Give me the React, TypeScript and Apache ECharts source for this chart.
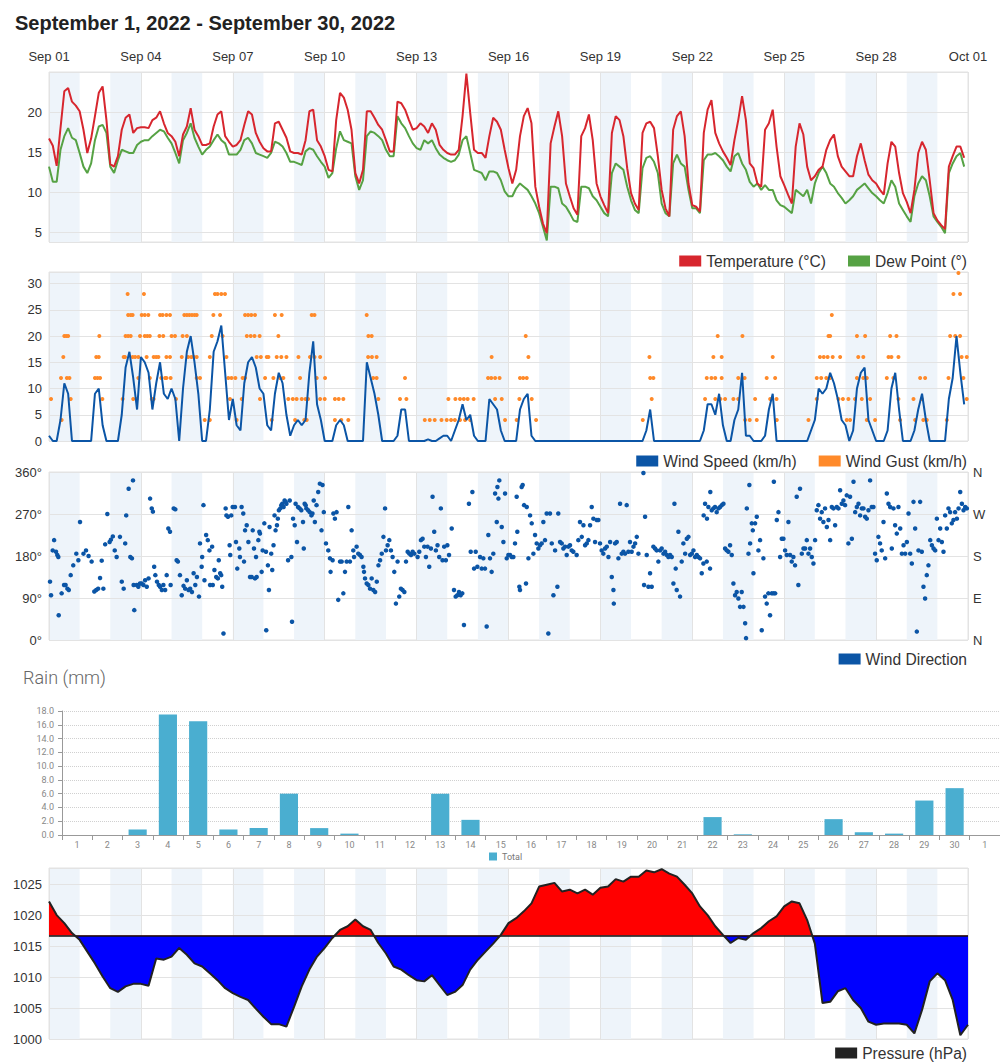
import React, { useEffect, useRef } from "react";
import * as echarts from "echarts";

// ---------- labels ----------
const titleText = "September 1, 2022 - September 30, 2022";
const dayLabels = ["Sep 01", "Sep 04", "Sep 07", "Sep 10", "Sep 13", "Sep 16", "Sep 19", "Sep 22", "Sep 25", "Sep 28", "Oct 01"];
const rainDays = ["1","2","3","4","5","6","7","8","9","10","11","12","13","14","15","16","17","18","19","20","21","22","23","24","25","26","27","28","29","30","1"];
const compass: Record<number, string> = { 0: "N", 90: "E", 180: "S", 270: "W", 360: "N" };

// ---------- temperature & dew point (every 3 h from Sep 1 00:00) ----------
const temperature = [
  16.7, 15.8, 13.3, 18.0, 22.6, 23.0, 21.3, 20.8,
  20.1, 17.8, 14.9, 16.7, 19.5, 22.4, 23.2, 19.0,
  13.5, 13.2, 14.5, 17.8, 19.3, 19.7, 17.4, 18.0,
  18.1, 18.1, 18.0, 19.0, 19.3, 20.1, 18.6, 17.4,
  17.0, 16.3, 14.5, 17.2, 18.2, 20.5, 17.8, 17.0,
  15.9, 15.9, 16.1, 18.2, 19.7, 20.1, 17.0, 16.3,
  15.7, 15.9, 16.5, 18.4, 20.1, 19.7, 17.4, 16.3,
  15.5, 15.1, 15.1, 18.6, 18.8, 17.8, 16.8, 15.1,
  14.9, 14.9, 14.7, 16.5, 20.1, 20.3, 16.5, 15.7,
  14.5, 12.8, 12.6, 19.0, 22.4, 21.8, 20.3, 17.8,
  12.4, 11.1, 12.8, 20.1, 20.1, 19.3, 18.4, 17.8,
  16.5, 15.1, 15.1, 21.3, 21.1, 20.3, 19.0, 17.8,
  18.0, 18.6, 18.2, 17.4, 18.6, 17.8, 15.9, 15.3,
  14.9, 14.7, 14.7, 15.3, 19.5, 24.8, 19.9, 15.3,
  14.9, 14.9, 14.3, 17.0, 19.3, 18.8, 17.8, 15.3,
  13.0, 11.1, 12.8, 17.0, 19.5, 20.5, 18.6, 10.7,
  8.2, 6.1, 4.9, 16.1, 18.2, 20.1, 17.0, 11.1,
  9.5, 8.0, 7.2, 17.0, 18.0, 19.7, 16.5, 11.1,
  9.5, 8.4, 7.4, 17.4, 19.5, 19.0, 17.0, 13.0,
  9.9, 8.6, 7.8, 17.4, 18.6, 18.8, 18.0, 14.5,
  10.3, 8.0, 7.0, 17.8, 19.5, 20.1, 17.0, 11.1,
  8.4, 8.2, 7.6, 17.4, 20.3, 21.5, 17.4, 16.1,
  15.1, 14.3, 13.4, 16.5, 19.0, 22.0, 19.0, 13.6,
  13.0, 11.1, 10.7, 17.8, 18.6, 20.3, 15.7, 12.0,
  10.9, 9.7, 8.6, 15.7, 18.6, 17.2, 13.2, 11.5,
  12.0, 12.8, 13.2, 15.3, 16.5, 17.2, 14.5, 13.2,
  12.6, 12.0, 12.0, 14.5, 16.1, 14.0, 12.2, 11.5,
  11.1, 10.3, 9.7, 13.6, 16.3, 15.7, 12.4, 9.9,
  8.8, 7.4, 10.3, 14.9, 16.3, 15.3, 11.5, 7.4,
  6.5, 5.9, 5.4, 13.2, 14.5, 15.7, 15.7, 14.3,
];
const dewPoint = [
  13.2, 11.3, 11.3, 15.3, 17.0, 18.0, 16.8, 16.5,
  14.9, 13.2, 12.4, 13.6, 16.5, 18.2, 18.4, 17.4,
  13.2, 12.4, 14.0, 15.3, 15.1, 14.9, 14.9, 15.9,
  16.3, 16.5, 16.5, 17.0, 17.4, 17.8, 17.6, 16.8,
  16.1, 14.9, 13.6, 16.5, 17.4, 18.6, 16.8, 15.7,
  14.7, 15.3, 15.7, 16.5, 17.2, 16.5, 16.1, 14.7,
  14.7, 14.7, 15.3, 16.5, 16.8, 16.1, 14.9, 14.7,
  14.5, 14.3, 14.9, 16.3, 16.1, 15.7, 14.9, 13.8,
  13.8, 13.6, 13.4, 15.1, 15.5, 15.3, 14.5, 13.8,
  13.2, 11.8, 12.4, 15.5, 17.6, 16.5, 16.3, 16.1,
  12.0, 10.3, 11.5, 17.0, 17.6, 17.4, 17.0, 16.5,
  15.3, 14.5, 14.5, 19.5, 18.6, 18.0, 17.0, 16.1,
  15.5, 15.3, 16.5, 16.1, 16.5, 15.5, 14.7, 14.3,
  14.0, 13.8, 14.0, 14.7, 16.5, 17.0, 14.9, 12.8,
  12.6, 12.4, 11.5, 12.6, 12.6, 12.4, 11.5, 10.1,
  9.5, 9.5, 10.5, 11.1, 10.7, 10.3, 9.5, 8.6,
  7.4, 5.7, 4.0, 10.7, 10.7, 10.5, 8.6, 8.2,
  7.4, 6.5, 6.3, 10.7, 10.7, 10.5, 9.5, 9.0,
  8.2, 7.4, 7.0, 12.4, 13.6, 13.2, 12.8, 10.7,
  9.0, 7.8, 7.4, 13.0, 14.3, 14.5, 13.8, 12.4,
  8.6, 7.4, 7.0, 13.6, 14.7, 13.6, 13.2, 10.3,
  8.0, 8.0, 7.4, 14.0, 14.7, 14.7, 14.9, 14.5,
  14.0, 13.2, 12.6, 14.5, 14.9, 13.6, 12.8, 11.3,
  10.7, 11.1, 10.3, 10.9, 10.3, 10.3, 9.0, 8.4,
  8.2, 7.8, 7.4, 10.3, 9.9, 9.5, 10.3, 8.6,
  11.1, 12.4, 13.2, 12.4, 11.1, 10.7, 9.9, 9.3,
  8.6, 9.0, 9.5, 10.3, 10.7, 11.1, 10.5, 9.9,
  9.5, 9.0, 8.6, 9.9, 11.5, 10.7, 8.6, 7.8,
  7.0, 6.3, 9.5, 11.1, 12.0, 11.5, 9.5, 7.0,
  6.3, 5.7, 4.9, 12.4, 13.6, 14.5, 14.9, 13.2,
];

// ---------- wind speed (every 3 h) ----------
const windSpeed = [
  1, 0, 0, 4, 11, 9, 0, 0,
  0, 0, 0, 0, 9, 10, 3, 0,
  0, 0, 0, 5, 14, 17, 12, 6,
  16, 15, 13, 6, 11, 15, 9, 8,
  10, 8, 0, 10, 17, 20, 15, 9,
  0, 0, 6, 17, 19, 22, 13, 4,
  8, 3, 2, 11, 15, 16, 14, 10,
  9, 3, 2, 9, 13, 11, 5, 1,
  3, 4, 3, 4, 13, 19, 7, 4,
  0, 0, 0, 3, 4, 3, 0, 0,
  0, 0, 0, 15, 12, 9, 5, 0,
  0, 0, 0, 1, 6, 6, 0, 0,
  0, 0, 0, 0.3, 0, 0, 0.5, 1,
  1, 0, 2, 4, 7, 4, 5, 1,
  0, 0, 0, 8, 7, 6, 2, 0,
  0, 0, 0, 6, 8, 9, 1, 0,
  0, 0, 0, 0, 0, 0, 0, 0,
  0, 0, 0, 0, 0, 0, 0, 0,
  0, 0, 0, 0, 0, 0, 0, 0,
  0, 0, 0, 0, 2, 6, 0, 0,
  0, 0, 0, 0, 0, 0, 0, 0,
  0, 0, 0, 2, 7, 7, 5, 9,
  3, 0, 0, 4, 6, 13, 1, 1,
  0, 0, 0, 1, 6, 9, 0, 0,
  0, 0, 0, 0, 0, 0, 0, 2,
  4, 10, 9, 10, 13, 11, 8, 4,
  3, 0, 2, 10, 13, 14, 4, 2,
  0, 0, 0, 2, 10, 13, 6, 0,
  0, 0, 2, 6, 9, 4, 0, 0,
  0, 0, 0, 8, 12, 20, 13, 7,
];

// ---------- wind gusts [hour, km/h] ----------
const windGust = [
  [1.6, 8], [9.4, 12], [9.9, 4], [11.2, 16], [12, 20], [13.5, 20], [15, 20], [14, 12], [16, 12], [17, 8],
  [36, 12], [38, 12], [40, 12], [37, 16], [39, 16], [39.4, 20], [41.8, 8],
  [57.7, 8], [58.5, 16], [59.5, 16], [60, 20], [62, 20], [64, 20], [61.6, 28], [62, 24], [64, 24], [65.5, 24], [65.5, 16], [67.5, 16], [70, 16], [66, 8], [68.7, 8], [70, 12], [71.3, 20],
  [72.6, 24], [75, 24], [74.4, 28], [75, 20], [77, 20], [79, 20], [77.8, 24], [76.5, 16], [79, 12], [80.5, 8], [82, 8], [82, 16], [84, 16], [85.7, 16], [86.5, 20], [89.5, 20], [87, 24], [89, 24], [92, 24], [94.8, 24], [88, 12], [91, 12], [92, 12], [92, 16], [94.8, 16], [95.3, 12],
  [96, 20], [98.7, 20], [99.5, 8], [104, 16], [104.7, 20], [108, 20], [106, 24], [108, 24], [110, 24], [112, 24], [114, 24], [115.7, 24], [109, 16], [111.5, 16], [113.5, 16], [115.7, 16], [115.7, 12], [118.3, 12],
  [122, 4], [126, 4], [126, 16], [127.5, 20], [128.8, 24], [130, 28], [132, 28], [135, 28], [134, 24], [136, 20], [137.9, 28], [139, 16], [140.5, 12], [143, 12], [146, 12], [141.8, 8], [147, 4],
  [151, 8], [151.7, 12], [153.6, 12], [153.6, 24], [156, 24], [158.5, 24], [161.4, 24], [155, 20], [158, 20], [161, 20], [165, 20], [162.7, 16], [166, 16], [170.6, 16], [165.3, 8], [169.3, 12], [171.9, 16], [174.5, 4],
  [175.8, 12], [181, 12], [177, 24], [179.7, 20], [178.4, 16], [182, 16], [186, 16], [182.3, 24], [183.6, 12], [187.5, 8], [191, 8], [194, 8], [195.4, 16], [196.7, 12], [198, 8], [201, 8], [203, 8], [192.8, 4], [200, 4], [201.9, 4],
  [205.8, 24], [208, 24], [204.5, 16], [208, 16], [212.4, 16], [209.7, 12], [212.4, 8], [216, 8], [216.3, 12],
  [224, 8], [227, 8], [230.6, 8], [224, 4], [229, 4], [234.5, 4],
  [248.9, 24], [250.2, 20], [252.8, 20], [250, 16], [253, 16], [256.7, 16], [254, 12], [256.7, 12], [258, 8],
  [275, 8], [280, 8], [278.9, 12],
  [294.4, 4], [298.3, 4], [302.2, 4], [307.5, 4], [312.9, 8], [311.6, 4], [315, 4], [318, 4], [322, 4], [326, 4], [330, 4], [318.4, 8], [322, 8], [325, 8], [328, 8], [332.7, 8],
  [344, 12], [346.5, 12], [349.5, 12], [353, 12], [346.8, 16], [349.5, 8], [354.7, 8], [357.3, 4],
  [366.4, 4], [368.5, 8], [369, 12], [371.5, 12], [374.3, 12], [373.5, 20], [375.6, 16], [378.2, 8], [381.6, 4],
  [465.2, 4], [470.4, 16], [471, 12], [473.5, 12], [472.2, 8],
  [514, 8], [515.3, 12], [519, 12], [522, 12], [527, 12], [522, 8], [526, 8], [520.5, 16], [523.9, 20], [527, 16], [529.7, 8],
  [536.2, 8], [540, 8], [540, 12], [545, 12], [543.3, 20], [545.4, 4], [549, 4], [554.5, 4], [553.2, 8],
  [562.3, 12], [568.9, 12], [567, 16], [565, 8], [570, 8], [570.2, 4],
  [595, 4], [601.5, 8], [601.5, 12], [605, 12], [609, 12], [612, 12], [604, 16], [607, 16], [610, 16], [614, 16], [619.8, 16], [610.7, 20], [612, 20], [613.3, 24], [618.5, 8], [622, 8], [626.3, 8], [625, 4], [627.6, 4],
  [631.5, 8], [636.8, 8], [633, 12], [638, 12], [640.7, 12], [634, 16], [638, 16], [633, 20], [639.4, 20], [640.7, 4], [647.2, 4], [643.3, 8],
  [656.4, 12], [661.6, 12], [657.7, 16], [660, 16], [665.5, 16], [659, 20], [664, 20], [665.5, 8], [666.8, 4],
  [677.3, 8], [683.8, 8], [678.6, 4], [685, 4], [687.7, 4], [682.5, 12], [686.4, 12],
  [703.4, 4], [704.7, 12], [706, 20], [710, 20], [713.8, 20], [708.6, 28], [713.8, 28], [712.5, 32], [715, 16], [719, 16], [716.4, 12], [719, 8],
];

// ---------- wind direction [hour, degrees] ----------
const windDirection = [
  [0.8, 125], [1.6, 96], [2.9, 192], [4, 214], [5.5, 189], [6.5, 182], [7.3, 178], [7.6, 53], [9.9, 100], [11.8, 118], [13, 118], [14.4, 110], [15.5, 107], [17, 139], [19, 160], [21.4, 185], [23, 171],
  [24.3, 253], [27, 185], [29, 192], [31, 180], [33.4, 168], [35.5, 104], [37, 107], [38.5, 110], [40, 133], [41.3, 170], [42.6, 110], [44, 205], [45.7, 270], [47.5, 210],
  [48.5, 215], [50, 222], [51.5, 192], [53, 178], [55.6, 221], [57, 125], [58.5, 110], [59.7, 207], [60.5, 267], [62.4, 324], [63.7, 178], [65, 175], [65.8, 342], [66.3, 118], [66.8, 64], [68.7, 118], [70, 114], [71.3, 121],
  [72.6, 121], [74, 118], [75.3, 128], [76.6, 114], [78, 132], [79.2, 303], [80.5, 282], [81.4, 275], [82.4, 157], [83.3, 139], [84.6, 125], [86, 118], [87, 114], [88.4, 107], [89.6, 118], [91, 107], [92.2, 139], [93.5, 239], [94.8, 232], [95.3, 118],
  [97.7, 282], [99, 280], [100, 171], [101, 168], [102.6, 139], [104, 96], [105.4, 116], [106.7, 110], [108, 128], [109.3, 107], [110.6, 110], [112, 103], [113.3, 143], [114.6, 118], [115.9, 135], [117.5, 93], [118.3, 207], [119.6, 157],
  [120, 178], [121, 289], [121.8, 128], [123.1, 225], [124.4, 214], [125.7, 192], [126.2, 118], [127.8, 200], [128.3, 118], [129.6, 150], [131, 135], [132.3, 132], [133, 171], [134.1, 143], [134.9, 139], [135.7, 114], [136.7, 14], [138.4, 282], [139, 267], [140.2, 264], [141.5, 203], [142, 182], [142.8, 267], [143.9, 285],
  [145.7, 285], [146.5, 210], [147.5, 153], [149.1, 196], [149.6, 178], [150.9, 285], [152.2, 271], [152.8, 168], [153.6, 235], [154.9, 246], [156.2, 210], [157.5, 135], [158.8, 135], [159.6, 235], [160.6, 196], [161.4, 132], [162.2, 178], [162.7, 135], [164, 214], [164.8, 232], [165.3, 228], [166.6, 146], [167.4, 192],
  [168.7, 250], [170, 189], [170.2, 21], [171.5, 160], [172.3, 107], [172.8, 242], [174.1, 185], [174.9, 150], [175.9, 203], [176.7, 267], [177.5, 235], [178.6, 246], [179.3, 260], [180.1, 278], [181.2, 282], [182, 289], [182.8, 292], [183.8, 285], [184.6, 299], [185.4, 296], [186, 292], [187.3, 171], [188.6, 299], [189.9, 178], [190.4, 39], [191.2, 260],
  [192.5, 246], [193.2, 292], [194.3, 210], [195.1, 285], [196.4, 282], [197.7, 278], [199, 253], [199.6, 196], [200.3, 292], [201.1, 289], [201.6, 282], [203, 278], [204.3, 274], [205.6, 267], [206.4, 271], [207.4, 299], [208.3, 253], [209.6, 289], [210.9, 317], [212.2, 335], [213.5, 235], [214.3, 332], [215.3, 274],
  [217, 207], [218.8, 192], [220.1, 175], [220.6, 146], [222.2, 171], [222.8, 271], [224, 260], [225.3, 274], [226.6, 86], [228, 168], [229.3, 168], [230.6, 100], [231.9, 146], [233.2, 168], [234.5, 285], [235.8, 168], [237.1, 235], [238.4, 192], [239, 178],
  [241, 200], [242.3, 185], [243.6, 182], [244.9, 178], [246.3, 157], [246.8, 146], [247.6, 132], [248.9, 121], [250.2, 118], [251.5, 110], [252.8, 132], [254.1, 107], [255.5, 103], [256.8, 125], [258.1, 160], [259.4, 171], [260.7, 185], [262, 221], [263.3, 282],
  [264, 192], [265.3, 203], [266.6, 214], [267.9, 192], [269.2, 178], [270.5, 146], [271.8, 78], [273.1, 168], [274.4, 93], [275.7, 110], [277, 107], [278.4, 103], [279.7, 168], [281, 189], [282.3, 185], [283.6, 182], [284.9, 189], [286.2, 185],
  [288.8, 178], [290.1, 189], [291.4, 214], [292.7, 217], [294, 200], [295.3, 178], [296.6, 200], [297.9, 157], [299.2, 196], [300.5, 307], [301.8, 232], [303.1, 192], [304.4, 203], [305.7, 178], [307, 282], [308.3, 171], [309.6, 200], [310.9, 171],
  [312.1, 203], [313.4, 182], [315.5, 239], [317.3, 107], [318.6, 93], [319.9, 96], [321.2, 103], [322.5, 96], [323.8, 100], [325.1, 32], [329, 292], [330.4, 189], [331.7, 317], [333, 153], [334.3, 189], [335.6, 157],
  [337.7, 178], [339, 153], [340.3, 175], [341.6, 153], [342.9, 29], [344.2, 225], [345.5, 175], [346.8, 146], [348.1, 185], [349.5, 314], [350.8, 253], [351.3, 328], [352.1, 303], [352.8, 342], [354.7, 242], [356, 210], [357.3, 314], [358.6, 175], [359.9, 182], [361.2, 182], [362.5, 178], [363.8, 178],
  [365.1, 207], [366.4, 307], [366.9, 232], [368.5, 114], [369, 107], [370.3, 328], [371.1, 332], [372.2, 289], [373.7, 121], [374.3, 285], [375.6, 175], [376.9, 267], [378.2, 250], [379.5, 185], [380.8, 225], [382.1, 207], [383.4, 196], [384.7, 203], [386, 207],
  [387.3, 253], [388.6, 214], [389.9, 271], [391.2, 14], [392.5, 271], [393.9, 207], [395.2, 96], [396.5, 192], [398.3, 114], [399, 271], [400.4, 210], [401.7, 207], [403, 196], [404.3, 200], [405.6, 182], [406.9, 200], [408.2, 203], [409.5, 192], [410.8, 189], [413.4, 182], [414.7, 214],
  [416, 253], [417.4, 221], [418.7, 246], [420, 203], [421.3, 207], [422.6, 214], [423.9, 246], [425.2, 285], [426.5, 260], [427.8, 210], [429.1, 257], [430.4, 257], [431.7, 207], [433, 192], [434.3, 185], [435.7, 196], [437, 200], [438.3, 178], [439.6, 210], [440.9, 135], [442.2, 107], [442.5, 78], [443.5, 207], [444.8, 210],
  [446.1, 175], [447.4, 292], [448.7, 185], [450, 189], [451.3, 185], [452.6, 289], [453.9, 189], [455.2, 210], [456.5, 189], [457.9, 200], [459.2, 207], [460.5, 221], [461.8, 185], [465.7, 358], [466.2, 118], [467, 264], [468.3, 182], [469.6, 114], [470.9, 143], [472.2, 114], [473.5, 200], [474.8, 196], [476.1, 192], [477.4, 168],
  [478.7, 192], [480, 196], [481.4, 185], [482.7, 189], [484, 182], [485.3, 178], [486.6, 182], [487.9, 178], [489.2, 121], [490, 292], [491, 153], [491.8, 107], [493.1, 232], [494.4, 93], [495.7, 168], [497, 207], [498.4, 185], [499.7, 217], [501, 221], [502.3, 182], [503.6, 185], [504.9, 192], [506.2, 178], [507.5, 182], [508.8, 178], [510.1, 175], [511.4, 143], [512.7, 164], [515.3, 168], [517.9, 153],
  [512.9, 267], [514, 292], [515.5, 260], [516.6, 285], [518.1, 317], [519.2, 278], [520.5, 282], [521.8, 285], [523.1, 274], [524.5, 282], [525.8, 285], [527.1, 289], [528.4, 292], [529.7, 196], [531, 192], [532.3, 189], [533.6, 203], [534.9, 182], [536.2, 121], [537.5, 96], [538.8, 103], [540.1, 89], [541.4, 71], [542.7, 103], [544.1, 71], [545.4, 36], [546.1, 4], [546.7, 282], [548, 185], [548.7, 332], [549.3, 207], [550.6, 250], [551.4, 235], [551.9, 143], [553.2, 250], [554.5, 264],
  [555.8, 192], [557.1, 214], [558.4, 21], [559.7, 175], [561, 93], [562.3, 78], [563.6, 100], [564.9, 53], [566.2, 100], [567.6, 100], [568.9, 100], [567.9, 339], [570.2, 257], [571.5, 274], [572.8, 178], [574.1, 217], [575.4, 217], [576.7, 192], [578, 182], [579.3, 253], [580.6, 182], [581.9, 168], [583.2, 178], [584.5, 160], [585.8, 307], [587.1, 118], [588.4, 324], [589.8, 185], [591.1, 196], [592.4, 196], [593.7, 214], [595, 185], [596.3, 196], [597.6, 178], [598.9, 164], [600.2, 214],
  [601.5, 278], [602.8, 289], [604.1, 260], [605.4, 274], [606.7, 253], [608, 282], [609.4, 242], [610.7, 257], [612, 214], [613.3, 285], [614.6, 282], [615.9, 246], [617.2, 285], [618.5, 282], [619.8, 321], [621.1, 292], [622.4, 299], [623.7, 289], [625, 310], [626.3, 207], [627.6, 307], [629, 217], [630.3, 339], [631.6, 274], [632.9, 285], [634.2, 292], [635.5, 267], [636.8, 282], [638.1, 282], [639.4, 264], [640.7, 260], [642, 278], [643.3, 342], [644.6, 285], [645.9, 285], [647.2, 185], [648.5, 171], [649.8, 221], [651.1, 207], [652.4, 192], [653.8, 253], [655.1, 175], [656.4, 314], [657.7, 292],
  [659, 285], [660.3, 196], [661.6, 282], [662.9, 246], [664.2, 228], [665.5, 285], [666.9, 239], [668.2, 185], [669.5, 203], [670.8, 185], [672.1, 210], [673.4, 271], [674.7, 185], [676, 164], [677.3, 296], [678.6, 239], [679.9, 18], [681.2, 192], [682.5, 296], [683.8, 189], [685.1, 114], [686.4, 89], [687.7, 139], [689, 160], [690.4, 214], [691.7, 203], [693, 196], [694.3, 192], [695.6, 260], [696.9, 214], [698.2, 239], [699.5, 210], [700.8, 189], [702.1, 267], [703.4, 239], [704.7, 282], [706, 274], [707.3, 250], [708.6, 257], [709.9, 274], [711.3, 260], [712.6, 282], [713.9, 317], [715.2, 292], [716.5, 278], [717.8, 285], [719.1, 282],
];

// ---------- daily rain (mm) ----------
const rainTotal = [0, 0, 0.8, 17.5, 16.5, 0.8, 1.0, 6.0, 1.0, 0.2, 0, 0, 6.0, 2.2, 0, 0, 0, 0, 0, 0, 0, 2.6, 0.1, 0, 0, 2.3, 0.4, 0.2, 5.0, 6.8, 0];

// ---------- pressure (every 6 h) ----------
const pressure = [
  1022.2, 1020.0, 1018.7, 1017.1, 1016.0, 1014.1, 1012.2, 1010.1, 1008.2, 1007.6,
  1008.5, 1008.9, 1008.9, 1008.6, 1013.0, 1012.8, 1013.3, 1014.7, 1013.6, 1012.2,
  1011.7, 1010.6, 1009.5, 1008.2, 1007.4, 1006.8, 1006.3, 1004.9, 1003.6, 1002.4,
  1002.4, 1002.0, 1005.2, 1008.5, 1011.2, 1013.3, 1014.7, 1016.3, 1017.6, 1018.2,
  1019.3, 1018.2, 1017.6, 1015.5, 1013.8, 1011.7, 1011.2, 1010.3, 1009.5, 1009.3,
  1010.3, 1008.7, 1007.1, 1007.6, 1008.7, 1011.2, 1012.8, 1014.1, 1015.4, 1016.8,
  1018.7, 1019.5, 1020.6, 1021.9, 1024.6, 1024.9, 1025.2, 1023.8, 1024.1, 1023.5,
  1024.1, 1023.3, 1024.4, 1024.6, 1025.8, 1025.4, 1026.2, 1026.2, 1027.2, 1026.9,
  1027.4, 1026.7, 1026.2, 1024.9, 1023.5, 1021.4, 1020.0, 1018.2, 1016.8, 1015.5,
  1016.3, 1016.0, 1017.1, 1017.9, 1019.0, 1019.8, 1021.4, 1022.2, 1021.9, 1019.2,
  1015.4, 1005.8, 1006.0, 1007.7, 1008.2, 1006.3, 1005.0, 1002.8, 1002.3, 1002.5,
  1002.5, 1002.5, 1002.3, 1000.9, 1004.7, 1009.3, 1010.6, 1009.5, 1006.3, 1000.6, 1002.3,
];
const pressureThreshold = 1016.7;

const FONT = '"Liberation Sans", Arial, Helvetica, sans-serif';

function bandSeries(xAxisIndex: number, yAxisIndex: number) {
  const data: any[] = [];
  for (let k = 0; k < 15; k++) data.push([{ xAxis: k * 48 }, { xAxis: k * 48 + 24 }]);
  return {
    name: "band" + xAxisIndex,
    type: "line",
    xAxisIndex,
    yAxisIndex,
    data: [],
    silent: true,
    z: 0,
    zlevel: 0,
    markArea: {
      silent: true,
      z: 0,
      itemStyle: { color: "#eef4fa" },
      data,
    },
  };
}

function buildOption() {
  const toPairs = (arr: number[], step: number) => arr.map((v, i) => [i * step, v]);

  const grids = [
    { left: 49, top: 72, width: 919, height: 170 },
    { left: 49, top: 272, width: 919, height: 169 },
    { left: 49, top: 472, width: 919, height: 168 },
    { left: 62, top: 711, width: 938, height: 124 },
    { left: 49, top: 868, width: 919, height: 171 },
  ].map((g, i) => ({
    ...g,
    show: i !== 3,
    borderColor: "#e3e3e3",
    borderWidth: 1,
    backgroundColor: "transparent",
  }));

  const timeAxis = (gridIndex: number, showLabels: boolean) => ({
    type: "value",
    gridIndex,
    min: 0,
    max: 720,
    interval: 72,
    position: "top",
    z: 1,
    axisLine: { show: false },
    axisTick: { show: false },
    splitLine: { show: true, lineStyle: { color: "#e3e3e3", width: 1 } },
    axisLabel: {
      show: showLabels,
      margin: 9,
      fontSize: 13,
      color: "#333",
      fontFamily: FONT,
      formatter: (v: number) => dayLabels[Math.round(v / 72)] ?? "",
    },
  });

  const splitLine = { show: true, lineStyle: { color: "#e3e3e3", width: 1 } };
  const yLabel = { fontSize: 13, color: "#333", fontFamily: FONT, margin: 7 };
  const stepLabel = (step: number, top: number) => (v: number) =>
    Math.abs(v / step - Math.round(v / step)) < 1e-6 && v < top ? String(Math.round(v)) : "";

  const legendBase = {
    orient: "horizontal",
    icon: "rect",
    itemWidth: 22,
    itemHeight: 11,
    itemGap: 22,
    padding: 0,
    selectedMode: false,
    textStyle: { fontSize: 15.6, color: "#333", fontFamily: FONT },
  };

  return {
    animation: false,
    backgroundColor: "#ffffff",
    textStyle: { fontFamily: FONT },
    grid: grids,
    xAxis: [
      timeAxis(0, true),
      timeAxis(1, false),
      timeAxis(2, false),
      {
        type: "category",
        gridIndex: 3,
        data: rainDays,
        boundaryGap: true,
        axisLine: { show: true, lineStyle: { color: "#999" } },
        axisTick: { show: true, lineStyle: { color: "#999" } },
        axisLabel: { fontSize: 9, color: "#888", margin: 5, fontFamily: "Roboto, sans-serif", interval: 0 },
        splitLine: { show: false },
      },
      timeAxis(4, false),
    ],
    yAxis: [
      {
        type: "value", gridIndex: 0, min: 3.8, max: 25, splitNumber: 4, z: 1,
        axisLine: { show: false }, axisTick: { show: false }, splitLine,
        axisLabel: { ...yLabel, formatter: stepLabel(5, 25) },
      },
      {
        type: "value", gridIndex: 1, min: 0, max: 32.2, splitNumber: 6, z: 1,
        axisLine: { show: false }, axisTick: { show: false }, splitLine,
        axisLabel: { ...yLabel, formatter: stepLabel(5, 32) },
      },
      {
        type: "value", gridIndex: 2, min: 0, max: 360, interval: 90, z: 1,
        axisLine: { show: false }, axisTick: { show: false }, splitLine,
        axisLabel: { ...yLabel, formatter: (v: number) => v + "°" },
      },
      {
        type: "value", gridIndex: 2, min: 0, max: 360, interval: 90, position: "right",
        axisLine: { show: false }, axisTick: { show: false }, splitLine: { show: false },
        axisLabel: { ...yLabel, margin: 5, formatter: (v: number) => compass[v] ?? "" },
      },
      {
        type: "value", gridIndex: 3, min: 0, max: 18, interval: 2,
        axisLine: { show: true, lineStyle: { color: "#999" } },
        axisTick: { show: true, length: 4, lineStyle: { color: "#999" } },
        splitLine: { show: true, lineStyle: { color: "#d0d0d0", type: "dotted" } },
        axisLabel: { fontSize: 9, color: "#888", margin: 8, fontFamily: "Roboto, sans-serif", formatter: (v: number) => v.toFixed(1) },
      },
      {
        type: "value", gridIndex: 4, min: 1000, max: 1027.6, splitNumber: 5, z: 1,
        axisLine: { show: false }, axisTick: { show: false }, splitLine,
        axisLabel: { ...yLabel, formatter: stepLabel(5, 1027) },
      },
    ],
    visualMap: [
      {
        type: "piecewise",
        show: false,
        seriesIndex: 10,
        dimension: 1,
        pieces: [
          { gte: 980, lt: pressureThreshold, color: "#0000ff" },
          { gte: pressureThreshold, lte: 1040, color: "#ff0000" },
        ],
      },
    ],
    legend: [
      { ...legendBase, right: 33, top: 253, data: ["Temperature (°C)", "Dew Point (°)"] },
      { ...legendBase, right: 33, top: 453, data: ["Wind Speed (km/h)", "Wind Gust (km/h)"] },
      { ...legendBase, right: 33, top: 651, data: ["Wind Direction"] },
      {
        ...legendBase, left: 489, top: 852, itemWidth: 8, itemHeight: 8,
        textStyle: { fontSize: 9, color: "#777", fontFamily: "Roboto, sans-serif" },
        data: ["Total"],
      },
      { ...legendBase, right: 33, top: 1045, data: ["Pressure (hPa)"] },
    ],
    graphic: [
      {
        type: "text", left: 15, top: 13,
        style: { text: titleText, font: `bold 20px ${FONT}`, fill: "#222" },
      },
      {
        type: "text", left: 23, top: 668,
        style: { text: "Rain (mm)", font: "300 18px Roboto, sans-serif", fill: "#666" },
      },
    ],
    series: [
      bandSeries(0, 0),
      bandSeries(1, 1),
      bandSeries(2, 2),
      bandSeries(4, 5),
      {
        name: "Temperature (°C)", type: "line", xAxisIndex: 0, yAxisIndex: 0,
        data: toPairs(temperature, 3), showSymbol: false, symbol: "none",
        lineStyle: { color: "#d7262e", width: 2 }, itemStyle: { color: "#d7262e" }, z: 5,
      },
      {
        name: "Dew Point (°)", type: "line", xAxisIndex: 0, yAxisIndex: 0,
        data: toPairs(dewPoint, 3), showSymbol: false, symbol: "none",
        lineStyle: { color: "#56a244", width: 2 }, itemStyle: { color: "#56a244" }, z: 4,
      },
      {
        name: "Wind Speed (km/h)", type: "line", xAxisIndex: 1, yAxisIndex: 1,
        data: toPairs(windSpeed, 3), showSymbol: false, symbol: "none",
        lineStyle: { color: "#0b55a6", width: 2 }, itemStyle: { color: "#0b55a6" }, z: 5,
      },
      {
        name: "Wind Gust (km/h)", type: "scatter", xAxisIndex: 1, yAxisIndex: 1,
        data: windGust, symbolSize: 4, itemStyle: { color: "#ff8a2a", opacity: 1 }, z: 4,
      },
      {
        name: "Wind Direction", type: "scatter", xAxisIndex: 2, yAxisIndex: 2,
        data: windDirection, symbolSize: 4.5, itemStyle: { color: "#0b55a6", opacity: 1 }, z: 5,
      },
      {
        name: "Total", type: "bar", xAxisIndex: 3, yAxisIndex: 4,
        data: rainTotal, barWidth: "60%", itemStyle: { color: "#4aaed0" },
      },
      {
        name: "PressureFill", type: "line", xAxisIndex: 4, yAxisIndex: 5,
        data: toPairs(pressure, 6), showSymbol: false, symbol: "none",
        lineStyle: { width: 0 },
        areaStyle: { origin: pressureThreshold, opacity: 1 },
        z: 4,
      },
      {
        name: "Pressure (hPa)", type: "line", xAxisIndex: 4, yAxisIndex: 5,
        data: toPairs(pressure, 6), showSymbol: false, symbol: "none",
        lineStyle: { color: "#222", width: 2 }, itemStyle: { color: "#222" }, z: 6,
        markLine: {
          silent: true, symbol: "none", label: { show: false },
          lineStyle: { color: "#111", width: 1.5, type: "solid" },
          data: [{ yAxis: pressureThreshold }],
        },
      },
    ],
  };
}

export default function App() {
  const ref = useRef<HTMLDivElement>(null);
  useEffect(() => {
    document.body.style.margin = "0";
    const chart = echarts.init(ref.current as HTMLDivElement, null, { renderer: "svg" });
    try {
      chart.setOption(buildOption() as any);
    } catch (e) {
      console.error("setOption failed", e);
    }
    return () => chart.dispose();
  }, []);
  return <div ref={ref} style={{ width: 1000, height: 1062 }} />;
}
